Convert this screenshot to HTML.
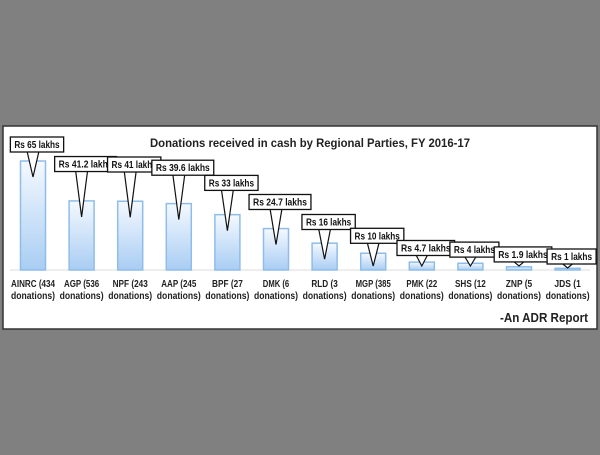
<!DOCTYPE html>
<html><head><meta charset="utf-8"><style>
body{margin:0;width:600px;height:450px;background:#808080;overflow:hidden;font-family:"Liberation Sans",sans-serif}
</style></head><body>
<svg id="c" width="600" height="450" xmlns="http://www.w3.org/2000/svg">
<defs><linearGradient id="g" x1="0" y1="0" x2="0" y2="1"><stop offset="0" stop-color="#f4f9ff"/><stop offset="1" stop-color="#a9cdf3"/></linearGradient></defs>
<rect x="3" y="126" width="594" height="203" fill="#fff" stroke="#333" stroke-width="1.5"/>
<text x="310" y="147" text-anchor="middle" font-size="12" font-weight="bold" fill="#222" textLength="320" lengthAdjust="spacingAndGlyphs">Donations received in cash by Regional Parties, FY 2016-17</text>
<line x1="10" y1="270" x2="590" y2="270" stroke="#ddd"/>
<text x="588" y="322" text-anchor="end" font-size="13" font-weight="bold" fill="#222" textLength="88" lengthAdjust="spacingAndGlyphs">-An ADR Report</text>
<g id="bars"></g><g id="labels"></g>
</svg>
<script>
const parties=["AINRC (434","AGP (536","NPF (243","AAP (245","BPF (27","DMK (6","RLD (3","MGP (385","PMK (22","SHS (12","ZNP (5","JDS (1"];
const values=[65,41.2,41,39.6,33,24.7,16,10,4.7,4,1.9,1];
const valueLabels=["Rs 65 lakhs","Rs 41.2 lakhs","Rs 41 lakhs","Rs 39.6 lakhs","Rs 33 lakhs","Rs 24.7 lakhs","Rs 16 lakhs","Rs 10 lakhs","Rs 4.7 lakhs","Rs 4 lakhs","Rs 1.9 lakhs","Rs 1 lakhs"];
const ns="http://www.w3.org/2000/svg";
const x0=33,step=48.6,base=270,k=109/65,bw=25;
const xS=i=>x0+i*step, yS=v=>base-v*k;
const bars=document.getElementById('bars'),labs=document.getElementById('labels');
function mk(t,a,p){const e=document.createElementNS(ns,t);for(const n in a)e.setAttribute(n,a[n]);p.appendChild(e);return e;}
values.forEach((v,i)=>{
 const cx=xS(i),top=yS(v);
 const r=mk('rect',{x:cx-bw/2,y:top,width:bw,height:Math.max(base-top,1.5),fill:'url(#g)',stroke:'#8fbde9','stroke-width':1.5},bars);
 
 
 [parties[i],'donations)'].forEach((s,j)=>{
  const t=mk('text',{x:cx,y:287+j*12,'text-anchor':'middle','font-size':10.5,'font-weight':'bold',fill:'#222',textLength:s.length*4.4,lengthAdjust:'spacingAndGlyphs'},labs);
  t.textContent=s;
  
  
 });
 const w=valueLabels[i].length*4.3+6, by=Math.max(137,249-(v-1)*2.3), bcx=cx+4, bx=bcx-w/2;
 const tipY=Math.max(Math.min(top+16,base-4),by+19);
 const p=mk('path',{d:`M${bcx-10} ${by+14} L${cx} ${tipY} L${bcx+2} ${by+14}`,fill:'#fff',stroke:'#111','stroke-width':1.2},labs);
 
 
 const b=mk('rect',{x:bx,y:by,width:w,height:15,fill:'#fff',stroke:'#111','stroke-width':1.3},labs);
 
 
 const t=mk('text',{x:bcx,y:by+11,'text-anchor':'middle','font-size':10,'font-weight':'bold',fill:'#111',textLength:w-8,lengthAdjust:'spacingAndGlyphs'},labs);
 t.textContent=valueLabels[i];
 
 
});
</script>
</body></html>
